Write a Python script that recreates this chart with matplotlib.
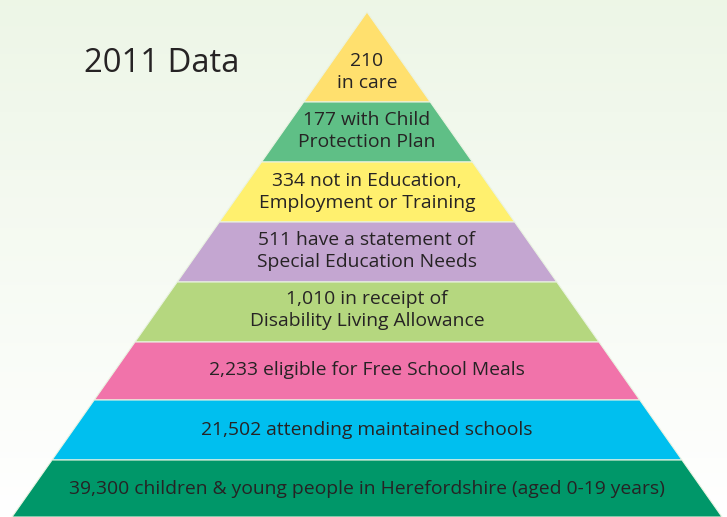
import numpy as np
import matplotlib
matplotlib.use('Agg')
import matplotlib.pyplot as plt
from matplotlib.patches import Polygon

plt.rcParams['font.family'] = ['Open Sans', 'DejaVu Sans']

# pyramid levels, top to bottom
labels = ['210\nin care',
          '177 with Child\nProtection Plan',
          '334 not in Education,\nEmployment or Training',
          '511 have a statement of\nSpecial Education Needs',
          '1,010 in receipt of\nDisability Living Allowance',
          '2,233 eligible for Free School Meals',
          '21,502 attending maintained schools',
          '39,300 children & young people in Herefordshire (aged 0-19 years)']
colors = ['#FFE06E', '#5FBF86', '#FFF06E', '#C4A6D1', '#B5D77F',
          '#F173AA', '#00BFEF', '#009769']
# band edges in pixels from top
edges = [12, 102, 162, 222, 282, 342, 400, 460, 517]
text_y = [72, 131, 192, 251, 310, 370, 430, 489]

apex_x = 367
slope = 0.703

fig = plt.figure(figsize=(7.27, 5.17), dpi=100)
ax = fig.add_axes([0, 0, 1, 1])
ax.set_xlim(0, 727)
ax.set_ylim(517, 0)
ax.axis('off')

# background gradient light green -> white
grad = np.linspace(0, 1, 256).reshape(-1, 1)
top = np.array([0.93, 0.965, 0.905])
bot = np.array([1.0, 1.0, 1.0])
img = top + (bot - top) * grad[..., None]
ax.imshow(img, extent=[0, 727, 517, 0], aspect='auto', zorder=0)

def half(y):
    return slope * (y - edges[0])

for i in range(len(labels)):
    y0, y1 = edges[i], edges[i + 1]
    pts = [(apex_x - half(y0), y0), (apex_x + half(y0), y0),
           (apex_x + half(y1), y1), (apex_x - half(y1), y1)]
    ax.add_patch(Polygon(pts, closed=True, facecolor=colors[i],
                         edgecolor='#EAF3E2', linewidth=0.8, zorder=1))
    ax.text(apex_x, text_y[i], labels[i], ha='center', va='center',
            fontsize=13.85, color='#262324', linespacing=1.28, zorder=2)

ax.text(84, 64, '2011 Data', ha='left', va='center', fontsize=23.6,
        color='#262324')

fig.savefig('out.png', dpi=100)
